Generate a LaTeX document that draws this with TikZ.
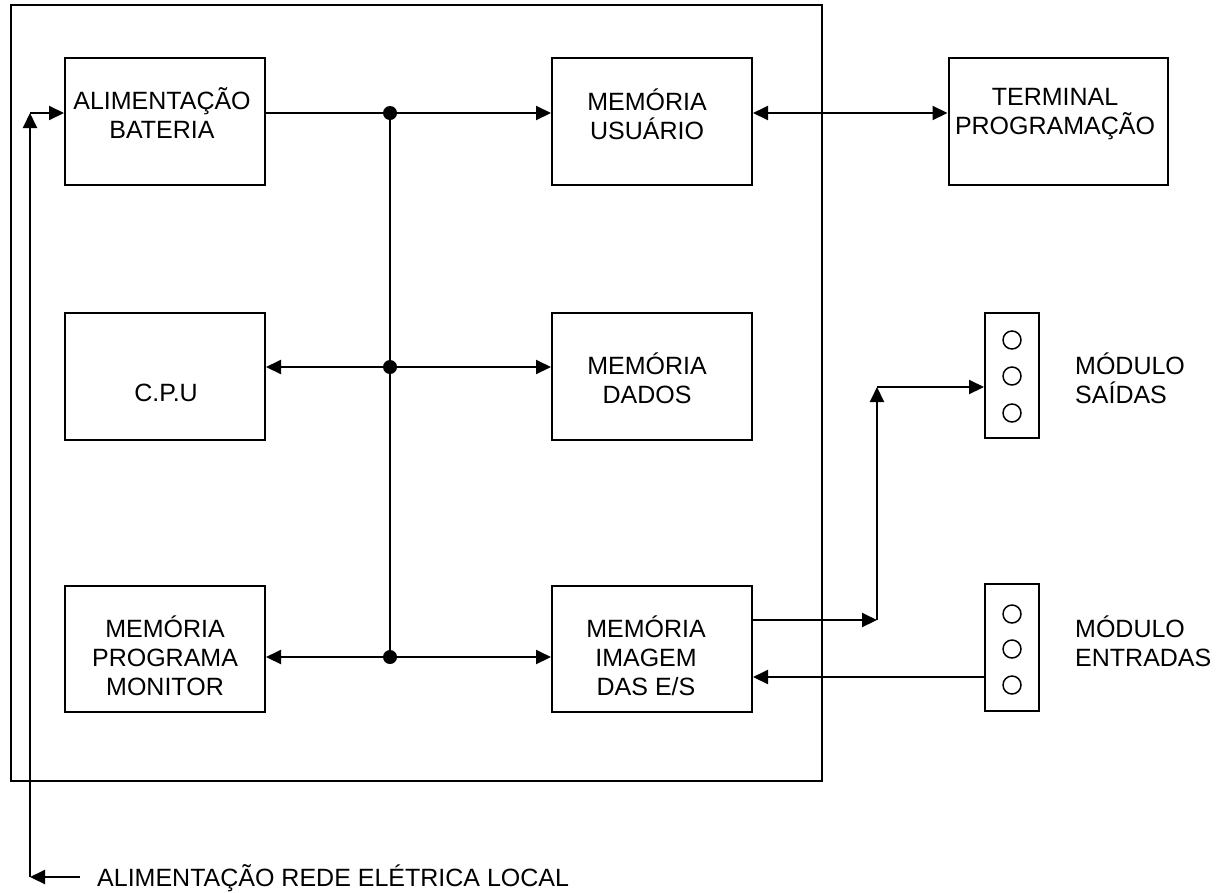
\documentclass[tikz,border=0pt]{standalone}
\usepackage{fontspec}
\setmainfont{Liberation Sans}
\usetikzlibrary{arrows.meta}
\begin{document}
\begin{tikzpicture}[x=1pt,y=-1pt,
  every node/.style={font=\fontsize{25pt}{29pt}\selectfont},
  ln/.style={line width=2pt},
  box/.style={draw,line width=2pt,rectangle,inner sep=0pt},
  txt/.style={align=center,inner sep=0pt},
  tri/.style={-{Triangle[length=15pt,width=14pt]}},
  dtri/.style={{Triangle[length=15pt,width=14pt]}-{Triangle[length=15pt,width=14pt]}},
  dot/.style={circle,fill=black,inner sep=0pt,minimum size=14pt},
  led/.style={circle,draw,line width=1.5pt,inner sep=0pt,minimum size=18pt}]
\useasboundingbox (0,0) rectangle (1222,892);
% outer frame
\node[box,minimum width=811pt,minimum height=776pt] (frame) at (416.5,393) {};
% boxes
\node[box,minimum width=200pt,minimum height=127pt] (bat) at (165,121.5) {};
\node[box,minimum width=200pt,minimum height=127pt] (usr) at (652,121.5) {};
\node[box,minimum width=219pt,minimum height=127pt] (term) at (1058,121.5) {};
\node[box,minimum width=200pt,minimum height=127pt] (cpu) at (165,376.5) {};
\node[box,minimum width=200pt,minimum height=127pt] (dad) at (652,376.5) {};
\node[box,minimum width=200pt,minimum height=126pt] (mon) at (165,649) {};
\node[box,minimum width=200pt,minimum height=126pt] (img) at (652,649) {};
\node[box,minimum width=54pt,minimum height=125pt] (sai) at (1012,375.5) {};
\node[box,minimum width=54pt,minimum height=127pt] (ent) at (1012,647.5) {};
% texts
\node[txt] (tbat) at (162,113) {ALIMENTAÇÃO\\BATERIA};
\node[txt] (tusr) at (647,114) {MEMÓRIA\\USUÁRIO};
\node[txt] (tterm) at (1055,114) {TERMINAL\\PROGRAMAÇÃO};
\node[txt] (tcpu) at (166,393) {C.P.U};
\node[txt] (tdad) at (647,378) {MEMÓRIA\\DADOS};
\node[txt] (tmon) at (165,656) {MEMÓRIA\\PROGRAMA\\MONITOR};
\node[txt] (timg) at (646,656) {MEMÓRIA\\IMAGEM\\DAS E/S};
\node[txt,align=left,anchor=west] (tsai) at (1075,378) {MÓDULO\\SAÍDAS};
\node[txt,align=left,anchor=west] (tent) at (1075,641) {MÓDULO\\ENTRADAS};
\node[txt,anchor=west] (trede) at (97,878) {ALIMENTAÇÃO REDE ELÉTRICA LOCAL};
% leds
\node[led] (s1) at (1012,340) {};
\node[led] (s2) at (1012,376) {};
\node[led] (s3) at (1012,413) {};
\node[led] (e1) at (1012,614) {};
\node[led] (e2) at (1012,649) {};
\node[led] (e3) at (1012,685) {};
% bus dots
\node[dot] (d1) at (390,113) {};
\node[dot] (d2) at (390,367) {};
\node[dot] (d3) at (390,657) {};
\coordinate (pwT) at (30,113);
\coordinate (pwB) at (30,877);
\coordinate (pwA) at (80,877);
\coordinate (c1) at (877,620);
\coordinate (c2) at (877,387);
% bus
\draw[ln] (d1.center) -- (d3.center);
\draw[ln] (bat.east |- d1) -- (d1.center);
\draw[ln,tri] (d1.center) -- (usr.west |- d1);
\draw[ln,dtri] (usr.east |- d1) -- (term.west |- d1);
\draw[ln,dtri] (cpu.east |- d2) -- (dad.west |- d2);
\draw[ln,dtri] (mon.east |- d3) -- (img.west |- d3);
% power
\draw[ln,tri] (pwB) -- (pwT);
\draw[ln,tri] (pwT) -- (bat.west |- pwT);
\draw[ln,tri] (pwA) -- (pwB);
% io
\draw[ln,tri] (img.east |- c1) -- (c1);
\draw[ln,tri] (c1) -- (c2);
\draw[ln,tri] (c2) -- (sai.west |- c2);
\draw[ln,tri] (ent.west |- 0,677) -- (img.east |- 0,677);
\end{tikzpicture}
\end{document}
